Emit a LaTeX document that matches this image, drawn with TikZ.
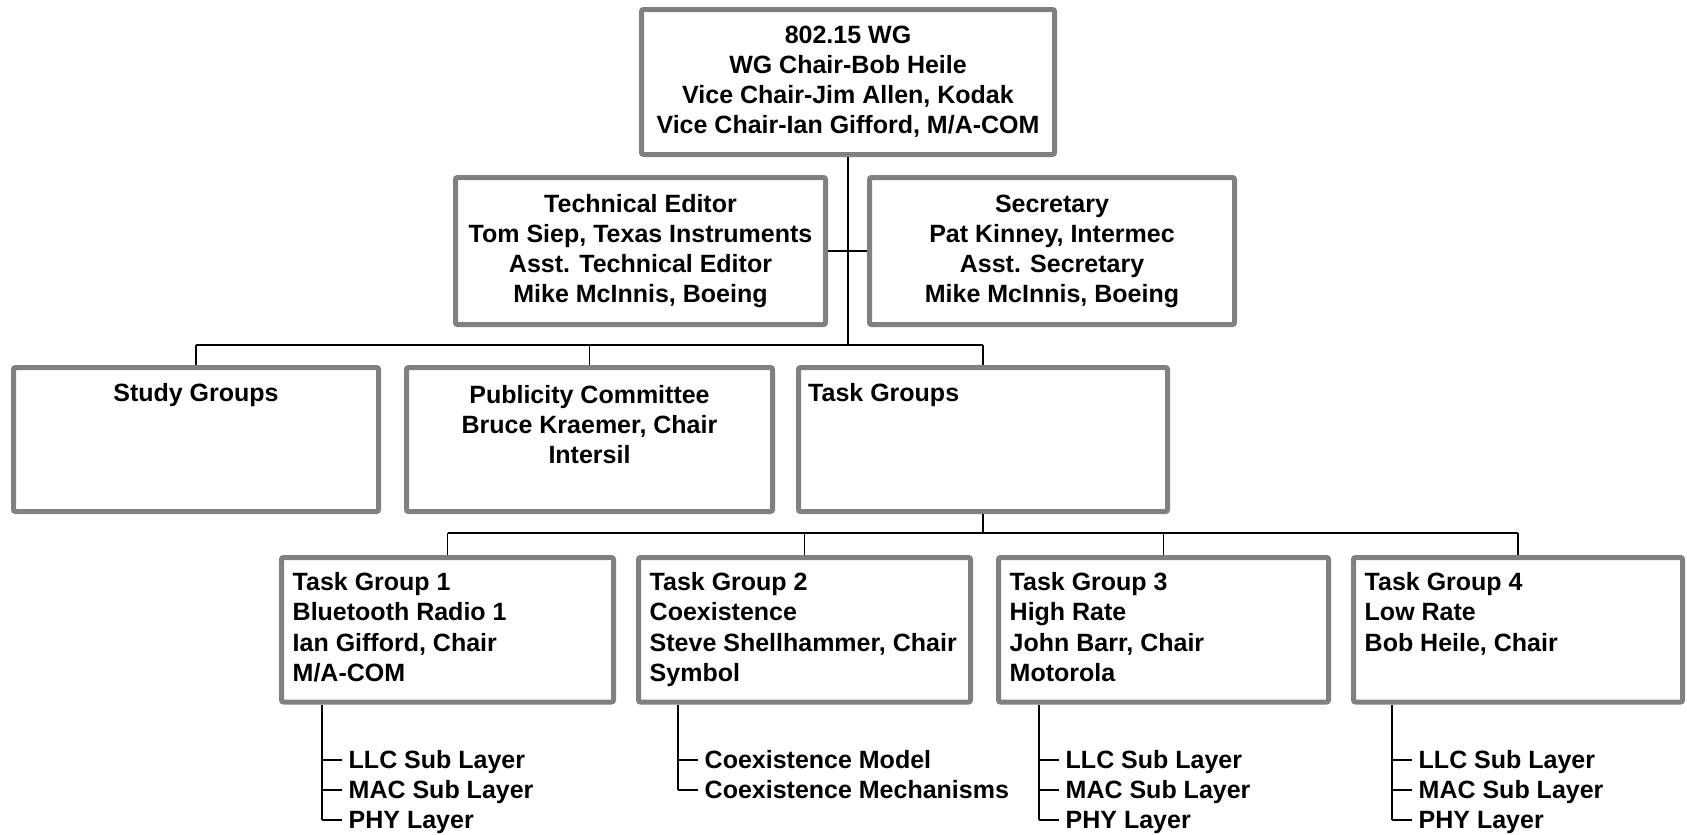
\documentclass[tikz,border=0pt]{standalone}
\usepackage{fontspec}
\setmainfont{Liberation Sans}
\definecolor{boxgray}{RGB}{128,128,128}
\tikzset{
  box/.style={draw=boxgray, line width=5pt, fill=white, rounded corners=2pt,
              inner sep=0pt, outer sep=2.5pt},
  ctext/.style={align=center, inner sep=0pt, font=\bfseries\fontsize{25}{30}\selectfont},
  ltext/.style={align=left, inner sep=0pt, anchor=north west, font=\bfseries\fontsize{25}{30.5}\selectfont},
  item/.style={anchor=west, inner xsep=7pt, inner ysep=0pt, text height=17.9pt, text depth=0pt,
               font=\bfseries\fontsize{25}{30}\selectfont},
  bus/.style={line width=2.2pt},
  drop/.style={line width=1.3pt},
  stem/.style={line width=2pt},
  tick/.style={line width=1.2pt},
}
\begin{document}
\begin{tikzpicture}[x=1pt,y=-1pt]
\useasboundingbox[fill=white] (0,0) rectangle (1687,835);

% top
\node[box, ctext, minimum width=413pt, minimum height=145pt] (wg) at (848,82)
  {802.15 WG\\WG Chair-Bob Heile\\Vice Chair-Jim Allen, Kodak\\Vice Chair-Ian Gifford, M/A-COM};

% level 1
\node[box, ctext, minimum width=370pt, minimum height=147pt] (te) at (640.5,251)
  {Technical Editor\\Tom Siep, Texas Instruments\\Asst. Technical Editor\\Mike McInnis, Boeing};
\node[box, ctext, minimum width=365pt, minimum height=147pt] (sec) at (1052,251)
  {Secretary\\Pat Kinney, Intermec\\Asst. Secretary\\Mike McInnis, Boeing};

% level 2
\node[box, minimum width=365pt, minimum height=144pt] (study) at (196,439.5) {};
\node[ctext, anchor=base] (studyT) at (196,401.5) {Study Groups};
\node[box, minimum width=366pt, minimum height=144pt] (pub) at (589.5,439.5) {};
\node[ctext, anchor=north] (pubT) at (589.5,384.8) {Publicity Committee\\Bruce Kraemer, Chair\\Intersil};
\node[box, minimum width=369pt, minimum height=144pt] (tgs) at (983,439.5) {};
\node[ctext, anchor=base west] (tgsT) at (808,401.5) {Task Groups};

% level 3
\node[box, minimum width=332pt, minimum height=144.5pt] (tg1) at (447.5,629.75) {};
\node[box, minimum width=332pt, minimum height=144.5pt] (tg2) at (804.5,629.75) {};
\node[box, minimum width=330pt, minimum height=144.5pt] (tg3) at (1163.5,629.75) {};
\node[box, minimum width=329pt, minimum height=144.5pt] (tg4) at (1518,629.75) {};
\node[ltext] (tg1T) at (292.5,571.8) {Task Group 1\\Bluetooth Radio 1\\Ian Gifford, Chair\\M/A-COM};
\node[ltext] (tg2T) at (649.5,571.8) {Task Group 2\\Coexistence\\Steve Shellhammer, Chair\\Symbol};
\node[ltext] (tg3T) at (1009.5,571.8) {Task Group 3\\High Rate\\John Barr, Chair\\Motorola};
\node[ltext] (tg4T) at (1364.5,571.8) {Task Group 4\\Low Rate\\Bob Heile, Chair};

% connectors level 0-1-2
\coordinate (b1) at (848,345);
\draw[stem] (wg.south) -- (b1);
\draw[stem] (te.east) -- (sec.west);
\draw[bus] (study.north |- b1) -- (tgs.north |- b1);
\draw[drop] (study.north) -- (study.north |- b1);
\draw[drop] (pub.north) -- (pub.north |- b1);
\draw[drop] (tgs.north) -- (tgs.north |- b1);

% connectors level 2-3
\coordinate (b2) at (983,533);
\draw[drop] (tgs.south) -- (b2);
\draw[bus] (tg1.north |- b2) -- (tg4.north |- b2);
\foreach \n in {tg1,tg2,tg3,tg4}{
  \draw[drop] (\n.north) -- (\n.north |- b2);
}

% sub lists
\coordinate (s1) at (322,704.5);
\coordinate (s2) at (678,704.5);
\coordinate (s3) at (1039,704.5);
\coordinate (s4) at (1392,704.5);

\node[item] (llc1) at (341.5,760) {LLC Sub Layer};
\node[item] (mac1) at (341.5,790) {MAC Sub Layer};
\node[item] (phy1) at (341.5,820) {PHY Layer};
\draw[stem] (s1) -- (s1 |- phy1.west);
\draw[tick] (s1 |- llc1.west) -- (llc1.west);
\draw[tick] (s1 |- mac1.west) -- (mac1.west);
\draw[tick] (s1 |- phy1.west) -- (phy1.west);

\node[item] (cm2) at (697.5,760) {Coexistence Model};
\node[item] (cx2) at (697.5,790) {Coexistence Mechanisms};
\draw[stem] (s2) -- (s2 |- cx2.west);
\draw[tick] (s2 |- cm2.west) -- (cm2.west);
\draw[tick] (s2 |- cx2.west) -- (cx2.west);

\node[item] (llc3) at (1058.5,760) {LLC Sub Layer};
\node[item] (mac3) at (1058.5,790) {MAC Sub Layer};
\node[item] (phy3) at (1058.5,820) {PHY Layer};
\draw[stem] (s3) -- (s3 |- phy3.west);
\draw[tick] (s3 |- llc3.west) -- (llc3.west);
\draw[tick] (s3 |- mac3.west) -- (mac3.west);
\draw[tick] (s3 |- phy3.west) -- (phy3.west);

\node[item] (llc4) at (1411.5,760) {LLC Sub Layer};
\node[item] (mac4) at (1411.5,790) {MAC Sub Layer};
\node[item] (phy4) at (1411.5,820) {PHY Layer};
\draw[stem] (s4) -- (s4 |- phy4.west);
\draw[tick] (s4 |- llc4.west) -- (llc4.west);
\draw[tick] (s4 |- mac4.west) -- (mac4.west);
\draw[tick] (s4 |- phy4.west) -- (phy4.west);
\end{tikzpicture}
\end{document}
